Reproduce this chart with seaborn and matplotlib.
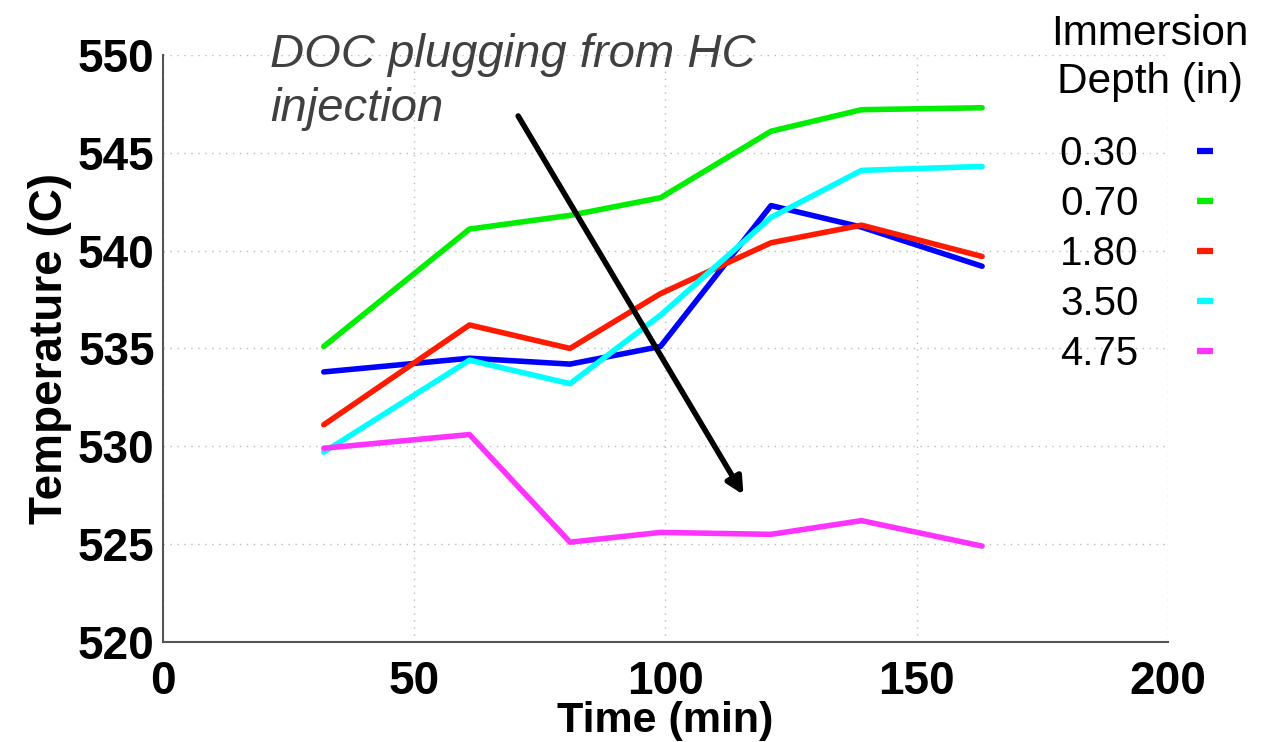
import pandas as pd
import matplotlib
matplotlib.use('Agg')
import matplotlib.pyplot as plt
import seaborn as sns
from matplotlib.lines import Line2D

# 데이터
time_min = [32, 61, 81, 99, 121, 139, 163]
depth_labels = ['0.30', '0.70', '1.80', '3.50', '4.75']
temp_030 = [533.8, 534.5, 534.2, 535.1, 542.3, 541.2, 539.2]
temp_070 = [535.1, 541.1, 541.8, 542.7, 546.1, 547.2, 547.3]
temp_180 = [531.1, 536.2, 535.0, 537.8, 540.4, 541.3, 539.7]
temp_350 = [529.7, 534.4, 533.2, 536.7, 541.7, 544.1, 544.3]
temp_475 = [529.9, 530.6, 525.1, 525.6, 525.5, 526.2, 524.9]
line_colors = ['#0000ff', '#00ee00', '#ff1a00', '#00ffff', '#ff33ff']

series = [temp_030, temp_070, temp_180, temp_350, temp_475]
rows = []
for lab, vals in zip(depth_labels, series):
    for t, v in zip(time_min, vals):
        rows.append({'time': t, 'temp': v, 'depth': lab})
df = pd.DataFrame(rows)

sns.set_style('white')
plt.rcParams['font.family'] = ['Liberation Sans', 'DejaVu Sans']
plt.rcParams['text.color'] = 'black'
plt.rcParams['axes.labelcolor'] = 'black'
plt.rcParams['xtick.color'] = 'black'
plt.rcParams['ytick.color'] = 'black'

fig = plt.figure(figsize=(12.76, 7.42), dpi=100)
ax = fig.add_axes([0.1277, 0.1348, 0.7877, 0.7912])

sns.lineplot(data=df, x='time', y='temp', hue='depth', hue_order=depth_labels,
             palette=line_colors, linewidth=4, legend=False, ax=ax)

ax.set_xlim(0, 200)
ax.set_ylim(520, 550)
ax.set_xticks([0, 50, 100, 150, 200])
ax.set_yticks([520, 525, 530, 535, 540, 545, 550])
ax.grid(True, linestyle=(0, (1, 4)), color='#bbbbbb', linewidth=1)
for s in ['top', 'right']:
    ax.spines[s].set_visible(False)
for s in ['left', 'bottom']:
    ax.spines[s].set_color('#555555')
    ax.spines[s].set_linewidth(1.5)
ax.tick_params(direction='in', length=6, color='#555555', labelsize=33)
ax.tick_params(axis='x', pad=13)
ax.tick_params(axis='y', pad=6)
for lbl in ax.get_xticklabels() + ax.get_yticklabels():
    lbl.set_fontweight('bold')

ax.set_xlabel('Time (min)', fontsize=31, fontweight='bold', labelpad=-2)
ax.set_ylabel('Temperature (C)', fontsize=33, fontweight='bold', labelpad=4)

# 화살표와 주석
ax.annotate('', xy=(115.8, 527.4), xytext=(70.4, 547.0),
            arrowprops=dict(arrowstyle='-|>', color='black', lw=4,
                            mutation_scale=25))
fig.text(270 / 1276, 1 - 82 / 742, 'DOC plugging from HC\ninjection',
         fontsize=34, style='italic', color='#404040', ha='left', va='center',
         linespacing=1.28)

# 범례
fig.text(1150 / 1276, 1 - 58 / 742, 'Immersion\nDepth (in)', fontsize=30.5,
         ha='center', va='center', linespacing=1.25)
handles = [Line2D([0], [0], color=c, lw=4.5, solid_capstyle='butt')
           for c in line_colors]
leg = fig.legend(handles, depth_labels, loc='upper right',
                 bbox_to_anchor=(1213 / 1276, 1 - 135 / 742),
                 fontsize=29, frameon=False, markerfirst=False,
                 handlelength=0.4, handletextpad=1.45, labelspacing=0.3,
                 borderpad=0, borderaxespad=0)

fig.savefig('out.png', dpi=100)
